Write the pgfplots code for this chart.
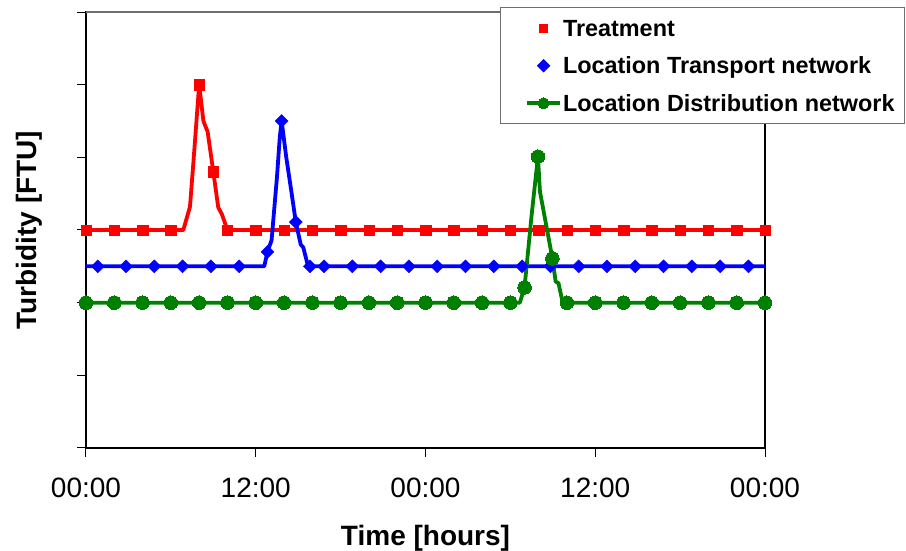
\documentclass[border=0pt]{standalone}
\usepackage{pgfplots}
\pgfplotsset{compat=1.18}
\usepackage{fontspec}
\setmainfont{Liberation Sans}
\definecolor{exred}{RGB}{255,0,0}
\definecolor{exblue}{RGB}{0,0,255}
\definecolor{exgreen}{RGB}{0,128,0}
\definecolor{framegray}{RGB}{110,110,110}
\begin{document}
\begin{tikzpicture}
\path[use as bounding box] (0,0) rectangle (906pt,551pt);
\begin{axis}[
  at={(86pt,103pt)}, anchor=south west,
  scale only axis, width=679pt, height=436pt,
  xmin=0, xmax=48, ymin=0, ymax=6,
  xtick={0,12,24,36,48},
  xticklabels={00:00,12:00,00:00,12:00,00:00},
  ytick={0,1,2,3,4,5,6}, yticklabels={},
  tick align=outside, xtick pos=left, ytick pos=left,
  major tick length=9pt,
  tick style={black, line width=1pt},
  axis line style={black, line width=1.2pt},
  clip=false,
  xticklabel style={font=\fontsize{28}{32}\selectfont, anchor=base, yshift=-41pt},
  xlabel={Time [hours]},
  xlabel style={font=\bfseries\fontsize{28}{32}\selectfont, at={(axis description cs:0.5,-0.2225)}, anchor=base},
  ylabel={Turbidity [FTU]},
  ylabel style={font=\bfseries\fontsize{28}{32}\selectfont, at={(axis description cs:-0.0722,0.5)}, anchor=base, rotate=0},
  legend style={at={(1.2062,1.0115)}, anchor=north east, draw=framegray, line width=1pt, fill=white,
    inner xsep=10pt, inner ysep=2pt, row sep=0pt, column sep=1pt,
    nodes={inner sep=0pt, text depth=},
    font=\bfseries\fontsize{23.4}{27}\selectfont},
  legend cell align=left,
]
% Treatment
\addplot[exred, line width=3.8pt, line join=round, mark=none, forget plot] coordinates {
(0,3)(6.88,3)(7.35,3.32)(7.6,3.95)(8,5)(8.3,4.5)(8.6,4.35)(9,3.8)(9.35,3.31)(9.6,3.22)(10,3)(48,3)};
\addplot[only marks, mark=square*, mark size=5.2pt, exred, mark options={draw=exred, fill=exred},
  legend image code/.code={\path (-15pt,0pt) (33pt,0pt); \draw[mark size=4.2pt] plot coordinates {(16.5pt,0pt)};}]
 coordinates {(0,3)(2,3)(4,3)(6,3)(8,5)(9,3.8)(10,3)(12,3)(14,3)(16,3)(18,3)(20,3)(22,3)(24,3)(26,3)(28,3)(30,3)(32,3)(34,3)(36,3)(38,3)(40,3)(42,3)(44,3)(46,3)(48,3)};
\addlegendentry{\rule[-10.5pt]{0pt}{37.5pt}Treatment}
% Transport
\addplot[exblue, line width=3.8pt, line join=round, mark=none, forget plot] coordinates {
(0,2.5)(12.6,2.5)(12.83,2.7)(13.12,2.86)(13.5,3.73)(13.7,4.28)(13.83,4.5)(14.15,4.01)(14.54,3.5)(14.83,3.11)(15.18,2.8)(15.36,2.76)(15.7,2.5)(48,2.5)};
\addplot[only marks, mark=square*, mark size=4.6pt, exblue, mark options={draw=exblue, fill=exblue, rotate=45},
  legend image code/.code={\path (-15pt,0pt) (33pt,0pt); \draw[mark size=4.2pt] plot coordinates {(16.5pt,0pt)};}]
 coordinates {(0.83,2.5)(2.83,2.5)(4.83,2.5)(6.83,2.5)(8.83,2.5)(10.83,2.5)(12.83,2.7)(13.83,4.5)(14.83,3.11)(15.83,2.5)(16.83,2.5)(18.83,2.5)(20.83,2.5)(22.83,2.5)(24.83,2.5)(26.83,2.5)(28.83,2.5)(30.83,2.5)(32.83,2.5)(34.83,2.5)(36.83,2.5)(38.83,2.5)(40.83,2.5)(42.83,2.5)(44.83,2.5)(46.83,2.5)};
\addlegendentry{\rule[-10.5pt]{0pt}{37.5pt}Location Transport network}
% Distribution
\addplot[exgreen, line width=3.8pt, line join=round, mark=none, forget plot] coordinates {
(0,2)(30.67,2)(31,2.21)(31.5,3.2)(31.95,4.01)(32.09,3.53)(32.97,2.61)(33.2,2.29)(33.4,2.27)(33.7,2)(48,2)};
\addplot[only marks, mark=*, mark size=6.8pt, exgreen, line width=3.8pt, mark options={draw=exgreen, fill=exgreen, line width=0pt},
  legend image code/.code={\path (-15pt,0pt) (33pt,0pt); \draw[line width=3.8pt] (0pt,0pt) -- (33pt,0pt); \draw[mark size=5.5pt] plot coordinates {(16.5pt,0pt)};}]
 coordinates {(0,2)(2,2)(4,2)(6,2)(8,2)(10,2)(12,2)(14,2)(16,2)(18,2)(20,2)(22,2)(24,2)(26,2)(28,2)(30,2)(31,2.21)(31.95,4.01)(32.97,2.61)(34,2)(36,2)(38,2)(40,2)(42,2)(44,2)(46,2)(48,2)};
\addlegendentry{\rule[-10.5pt]{0pt}{37.5pt}Location Distribution network}
\draw[framegray, line width=1.2pt] (rel axis cs:0,1) -- (rel axis cs:1,1);
\end{axis}
\end{tikzpicture}
\end{document}
